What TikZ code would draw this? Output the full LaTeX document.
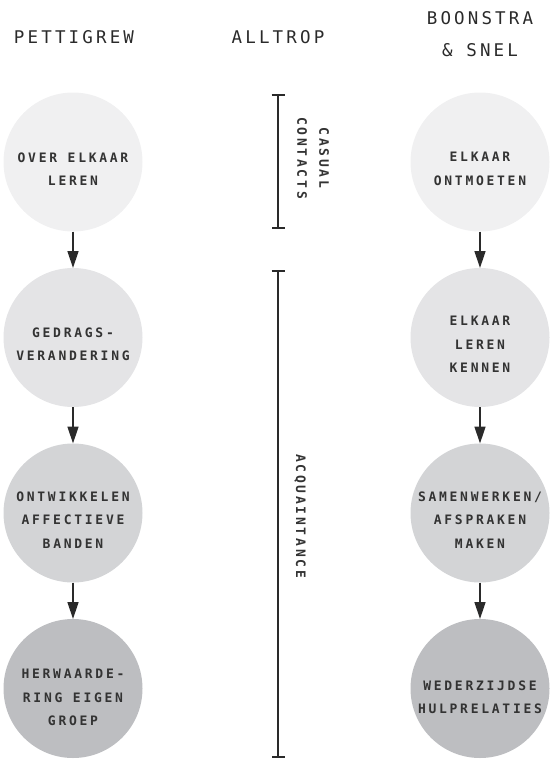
\documentclass[tikz,border=0pt]{standalone}
\usepackage{fontspec}
\usetikzlibrary{arrows.meta}
\newfontfamily\labfont[LetterSpace=21]{DejaVu Sans Mono Bold}
\newfontfamily\headfont[LetterSpace=18]{DejaVu Sans Mono}
\definecolor{cA}{HTML}{F0F0F1}
\definecolor{cB}{HTML}{E4E4E6}
\definecolor{cC}{HTML}{D3D4D6}
\definecolor{cD}{HTML}{BDBEC1}
\definecolor{ink}{HTML}{2A2A2A}
\definecolor{txtink}{HTML}{333333}
\tikzset{
  circ/.style={circle, minimum size=139pt, inner sep=0pt, outer sep=0pt, draw=none},
  txt/.style={font=\labfont\fontsize{13}{23.5}\selectfont, text=txtink, align=center, inner sep=0pt},
  head/.style={font=\headfont\fontsize{17.5}{32}\selectfont, text=ink, align=center, inner sep=0pt},
  side/.style={font=\labfont\fontsize{13}{22}\selectfont, text=txtink, align=center, inner sep=0pt, rotate=-90},
  arr/.style={draw=ink, line width=1.4pt, -{Triangle[length=17pt, width=11pt]}},
  brk/.style={draw=ink, line width=1.3pt, {Bar[width=13pt, line width=2pt]}-{Bar[width=13pt, line width=2pt]}}
}
\begin{document}
\begin{tikzpicture}[x=1pt, y=-1pt]
\useasboundingbox (0,0) rectangle (550,760);
% headings
\node[head] (hp) at (74,37) {PETTIGREW};
\node[head] (ha) at (278,37) {ALLTROP};
\node[head] (hb) at (480,34) {BOONSTRA\\\& SNEL};
% left column
\node[circ, fill=cA, label={[txt, name=p1t, yshift=-7pt]center:OVER ELKAAR\\LEREN}] (p1) at (73,162) {};
\node[circ, fill=cB, label={[txt, name=p2t, yshift=-7pt]center:GEDRAGS-\\VERANDERING}] (p2) at (73,337.5) {};
\node[circ, fill=cC, label={[txt, name=p3t, yshift=-7pt]center:ONTWIKKELEN\\AFFECTIEVE\\BANDEN}] (p3) at (73,513) {};
\node[circ, fill=cD, label={[txt, name=p4t, yshift=-9pt]center:HERWAARDE-\\RING EIGEN\\GROEP}] (p4) at (73,688.5) {};
% right column
\node[circ, fill=cA, label={[txt, name=b1t, yshift=-7pt]center:ELKAAR\\ONTMOETEN}] (b1) at (480,162) {};
\node[circ, fill=cB, label={[txt, name=b2t, yshift=-7pt]center:ELKAAR\\LEREN\\KENNEN}] (b2) at (480,337.5) {};
\node[circ, fill=cC, label={[txt, name=b3t, yshift=-7pt]center:SAMENWERKEN/\\AFSPRAKEN\\MAKEN}] (b3) at (480,513) {};
\node[circ, fill=cD, label={[txt, name=b4t, yshift=-9pt]center:WEDERZIJDSE\\HULPRELATIES}] (b4) at (480,688.5) {};
% arrows
\draw[arr] (p1) -- (p2);
\draw[arr] (p2) -- (p3);
\draw[arr] (p3) -- (p4);
\draw[arr] (b1) -- (b2);
\draw[arr] (b2) -- (b3);
\draw[arr] (b3) -- (b4);
% brackets
\coordinate (c1) at (278,94);
\coordinate (c2) at (278,228.5);
\coordinate (a1) at (278,270);
\coordinate (a2) at (278,758);
\draw[brk] (c1) -- (c2);
\draw[brk] (a1) -- (a2);
\node[side] (cc) at (313,158) {CASUAL\\CONTACTS};
\node[side] (aq) at (300,516) {ACQUAINTANCE};
\end{tikzpicture}
\end{document}
